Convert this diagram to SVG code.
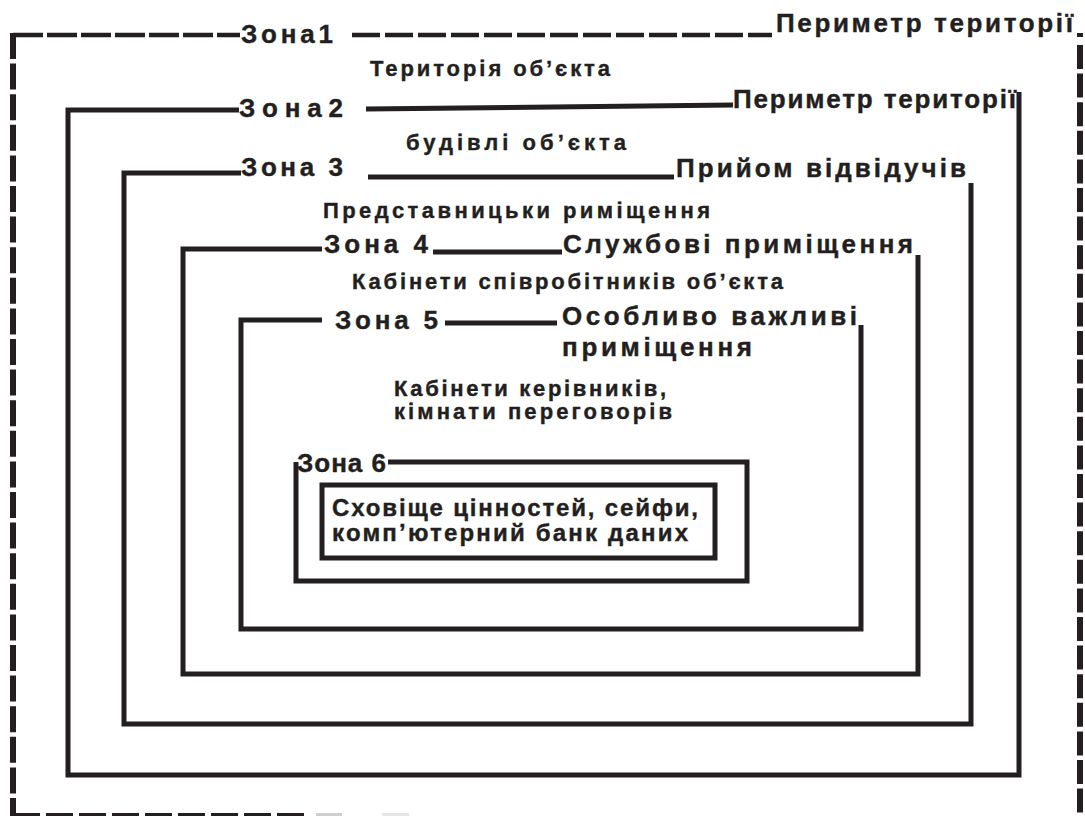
<svg xmlns="http://www.w3.org/2000/svg" width="1085" height="816" viewBox="0 0 1085 816">
<style>
.t{font-family:"Liberation Sans",Arial,sans-serif;font-weight:bold;fill:#231f20;stroke:#231f20;stroke-width:0.4}
.lbl{font-size:26px}
.desc{font-size:22px}
.in{font-size:24px}
.ln{fill:none;stroke:#231f20;stroke-width:5;stroke-linejoin:miter;stroke-linecap:butt}
.dash{fill:none;stroke:#231f20;stroke-linecap:butt}
</style>
<rect width="1085" height="816" fill="#ffffff"/>
<g id="zone1">
  <line class="dash" x1="13" y1="35" x2="240" y2="35" stroke-width="4.5" stroke-dasharray="30 4"/>
  <line class="dash" x1="352" y1="35" x2="772" y2="35" stroke-width="4.5" stroke-dasharray="28 5"/>
  <line class="dash" x1="13" y1="33" x2="13" y2="816" stroke-width="6" stroke-dasharray="26 4.6"/>
  <line class="dash" x1="1080" y1="33" x2="1080" y2="37" stroke-width="6"/>
  <line class="dash" x1="1080" y1="45" x2="1080" y2="816" stroke-width="6" stroke-dasharray="24 4.6"/>
  <line class="dash" x1="13" y1="815" x2="309" y2="815" stroke-width="4" stroke-dasharray="27 6"/>
  <line x1="316" y1="815" x2="342" y2="815" stroke="#cfcfcf" stroke-width="4"/>
  <line x1="382" y1="815" x2="409" y2="815" stroke="#e6e6e6" stroke-width="4"/>
  <text class="t lbl" x="241" y="43" textLength="92" lengthAdjust="spacing">Зона1</text>
  <text class="t lbl" x="776" y="32" textLength="297" lengthAdjust="spacing">Периметр території</text>
  <text class="t desc" x="370" y="76" textLength="240" lengthAdjust="spacing">Територія об’єкта</text>
</g>
<g id="zone2">
  <path class="ln" d="M239,110 H68 V775 H1019 V92"/>
  <path class="ln" d="M366,109 L733,105"/>
  <text class="t lbl" x="239" y="117" textLength="104" lengthAdjust="spacing">Зона2</text>
  <text class="t lbl" x="733" y="108" textLength="283" lengthAdjust="spacing">Периметр території</text>
  <text class="t desc" x="406" y="150" textLength="220" lengthAdjust="spacing">будівлі об’єкта</text>
</g>
<g id="zone3">
  <path class="ln" d="M241,173 H124 V724 H971 V183"/>
  <path class="ln" d="M368,177 H674"/>
  <text class="t lbl" x="241" y="176" textLength="102" lengthAdjust="spacing">Зона 3</text>
  <text class="t lbl" x="676" y="177" textLength="290" lengthAdjust="spacing">Прийом відвідучів</text>
  <text class="t desc" x="323" y="218" textLength="387" lengthAdjust="spacing">Представницьки риміщення</text>
</g>
<g id="zone4">
  <path class="ln" d="M322,249 H183 V674 H918 V255"/>
  <path class="ln" d="M433,252 H562"/>
  <text class="t lbl" x="324" y="253" textLength="104" lengthAdjust="spacing">Зона 4</text>
  <text class="t lbl" x="563" y="253" textLength="350" lengthAdjust="spacing">Службові приміщення</text>
  <text class="t desc" x="352" y="289" textLength="431" lengthAdjust="spacing">Кабінети співробітників об’єкта</text>
</g>
<g id="zone5">
  <path class="ln" d="M322,320 H241 V629 H861 V325"/>
  <path class="ln" d="M445,323 H557"/>
  <text class="t lbl" x="335" y="329" textLength="103" lengthAdjust="spacing">Зона 5</text>
  <text class="t lbl" x="562" y="325" textLength="295" lengthAdjust="spacing">Особливо важливі</text>
  <text class="t lbl" x="562" y="356" textLength="190" lengthAdjust="spacing">приміщення</text>
  <text class="t desc" x="394" y="396" textLength="272" lengthAdjust="spacing">Кабінети керівників,</text>
  <text class="t desc" x="394" y="419" textLength="278" lengthAdjust="spacing">кімнати переговорів</text>
</g>
<g id="zone6">
  <path class="ln" d="M388,462 H747 V581 H296 V462" stroke-width="9"/>
  <rect class="ln" x="322" y="485" width="393" height="73" stroke-width="11"/>
  <text class="t lbl" x="297" y="472" textLength="89" lengthAdjust="spacing">Зона 6</text>
  <text class="t in" x="332" y="516" textLength="366" lengthAdjust="spacing">Сховіще цінностей, сейфи,</text>
  <text class="t in" x="332" y="541" textLength="356" lengthAdjust="spacing">комп’ютерний банк даних</text>
</g>
</svg>
